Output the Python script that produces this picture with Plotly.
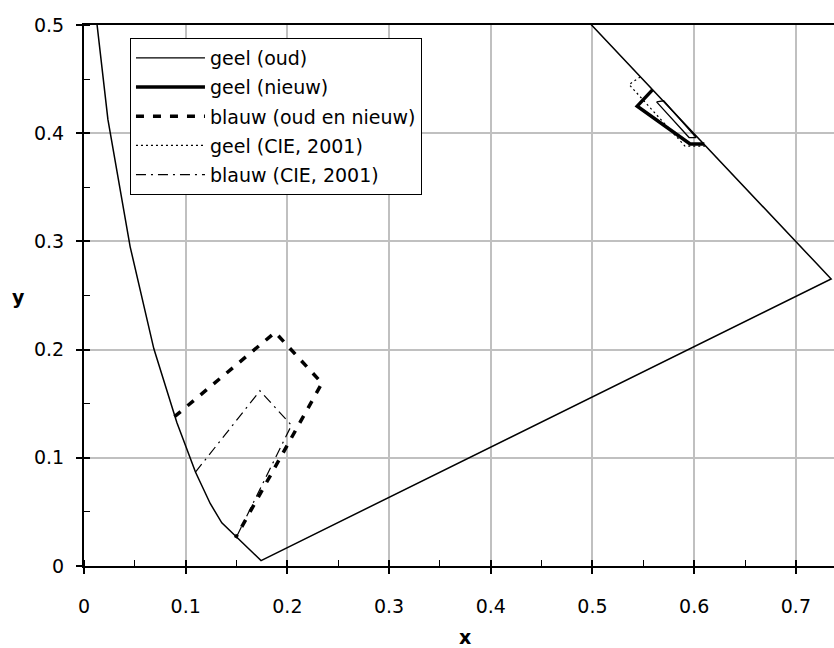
import plotly.graph_objects as go

# Spectral locus (CIE 1931), drawn as one open polyline
locus_x = [0.0082, 0.0235, 0.0454, 0.0687, 0.0913, 0.1096, 0.1241, 0.1355, 0.1741,
           0.7347, 0.7190, 0.6915, 0.6658, 0.6270, 0.5752, 0.5125, 0.4788]
locus_y = [0.5384, 0.4127, 0.2950, 0.2007, 0.1327, 0.0868, 0.0578, 0.0399, 0.0050,
           0.2653, 0.2809, 0.3083, 0.3340, 0.3725, 0.4242, 0.4866, 0.5202]

geel_oud_x = [0.563, 0.570, 0.602, 0.595, 0.563]
geel_oud_y = [0.429, 0.430, 0.396, 0.396, 0.429]

geel_nieuw_x = [0.559, 0.544, 0.596, 0.610]
geel_nieuw_y = [0.440, 0.425, 0.390, 0.390]

blauw_x = [0.089, 0.188, 0.234, 0.149]
blauw_y = [0.138, 0.216, 0.169, 0.026]

geel_cie_x = [0.547, 0.536, 0.591, 0.611]
geel_cie_y = [0.452, 0.445, 0.388, 0.388]

blauw_cie_x = [0.1096, 0.173, 0.204, 0.150]
blauw_cie_y = [0.0868, 0.162, 0.130, 0.027]

FONT = "DejaVu Sans, Liberation Sans, Arial, sans-serif"
FS = 19

fig = go.Figure()
fig.add_trace(go.Scatter(x=geel_oud_x, y=geel_oud_y, mode="lines", name="geel (oud)",
                         line=dict(color="black", width=1.3), legendgroup="a"))
fig.add_trace(go.Scatter(x=geel_nieuw_x, y=geel_nieuw_y, mode="lines", name="geel (nieuw)",
                         line=dict(color="black", width=3.5), legendgroup="b"))
fig.add_trace(go.Scatter(x=blauw_x, y=blauw_y, mode="lines", name="blauw (oud en nieuw)",
                         line=dict(color="black", width=3.5, dash="8px,9px"), legendgroup="c"))
fig.add_trace(go.Scatter(x=geel_cie_x, y=geel_cie_y, mode="lines", name="geel (CIE, 2001)",
                         line=dict(color="black", width=1.2, dash="2px,3px"), legendgroup="d"))
fig.add_trace(go.Scatter(x=blauw_cie_x, y=blauw_cie_y, mode="lines", name="blauw (CIE, 2001)",
                         line=dict(color="black", width=1.2, dash="10px,5px,2px,5px"), legendgroup="e"))
fig.add_trace(go.Scatter(x=locus_x, y=locus_y, mode="lines", showlegend=False,
                         line=dict(color="black", width=1.5), xaxis="x2", yaxis="y2",
                         hoverinfo="skip"))

XR = [0, 0.7375]
YR = [0, 0.5]

fig.update_layout(
    width=834, height=648,
    margin=dict(l=84, r=0, t=25, b=82),
    paper_bgcolor="white", plot_bgcolor="white",
    font=dict(family=FONT, size=FS, color="black"),
    showlegend=True,
    legend=dict(x=0.0613, y=0.976, xanchor="left", yanchor="top",
                bordercolor="black", borderwidth=1, bgcolor="white",
                font=dict(family=FONT, size=FS, color="black"),
                itemwidth=69, tracegroupgap=1.5),
    xaxis=dict(range=XR, dtick=0.1, tick0=0, showgrid=True, gridcolor="#c0c0c0", gridwidth=1.5,
               zeroline=False, showline=True, linecolor="black", linewidth=2, mirror=True,
               ticks="outside", ticklen=6, tickwidth=1.5, tickcolor="black",
               ticklabelstandoff=16,
               minor=dict(dtick=0.05, tick0=0, ticks="inside", ticklen=6, tickwidth=1.2,
                          tickcolor="black", showgrid=False)),
    yaxis=dict(range=YR, dtick=0.1, tick0=0, showgrid=True, gridcolor="#c0c0c0", gridwidth=1.5,
               zeroline=False, showline=True, linecolor="black", linewidth=2,
               ticks="outside", ticklen=6, tickwidth=1.5, tickcolor="black",
               ticklabelstandoff=8,
               minor=dict(dtick=0.05, tick0=0, ticks="inside", ticklen=6, tickwidth=1.2,
                          tickcolor="black", showgrid=False)),
    xaxis2=dict(range=XR, overlaying="x", anchor="y2", dtick=0.1, tick0=0, showgrid=False,
                zeroline=False, showline=False, ticks="inside", ticklen=6, tickwidth=1.5,
                tickcolor="black", showticklabels=False),
    yaxis2=dict(range=YR, overlaying="y", anchor="x2", dtick=0.1, tick0=0, showgrid=False,
                zeroline=False, showline=False, ticks="inside", ticklen=6, tickwidth=1.5,
                tickcolor="black", showticklabels=False),
    annotations=[
        dict(text="<b>x</b>", xref="paper", yref="paper", x=0.508, y=-0.131,
             xanchor="center", yanchor="middle", showarrow=False,
             font=dict(family=FONT, size=FS, color="black")),
        dict(text="<b>y</b>", xref="paper", yref="paper", x=-0.088, y=0.497,
             xanchor="center", yanchor="middle", showarrow=False,
             font=dict(family=FONT, size=FS, color="black")),
    ],
)

fig.write_html("out.html", config={"displayModeBar": False},
               post_script="document.body.style.margin='0px';document.body.style.overflow='hidden';")
